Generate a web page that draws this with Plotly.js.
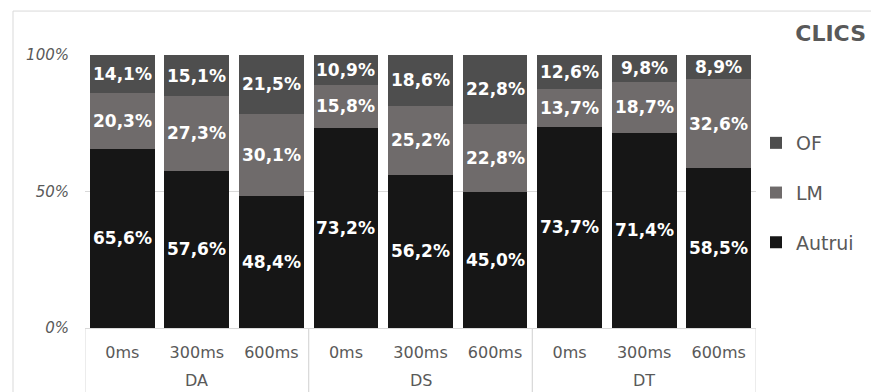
<!DOCTYPE html>
<html><head><meta charset="utf-8">
<script src="https://cdn.plot.ly/plotly-3.0.1.min.js"></script>
<style>html,body{margin:0;padding:0;background:#fff}#c{width:871px;height:392px}</style>
</head><body><div id="c"></div>
<script>
const groups = ['DA','DA','DA','DS','DS','DS','DT','DT','DT'];
const delays = ['0ms','300ms','600ms','0ms','300ms','600ms','0ms','300ms','600ms'];
const autrui = [65.6,57.6,48.4,73.2,56.2,45.0,73.7,71.4,58.5];
const lm     = [20.3,27.3,30.1,15.8,25.2,22.8,13.7,18.7,32.6];
const of     = [14.1,15.1,21.5,10.9,18.6,22.8,12.6,9.8,8.9];
const yTickVals = [0,50,100];
const yTickText = ['0%','50%','100%'];

const fmt = v => v.toFixed(1).replace('.', ',') + '%';
const font = 'DejaVu Sans, sans-serif';
const idx = delays.map((_, i) => i);
const grey = '#595959', lineC = '#d9d9d9';

function tr(name, vals, color, rank){
  return {type:'bar', name:name, x:idx, y:vals,
    marker:{color:color, line:{width:0}}, legendgroup:name, legendrank:rank, hoverinfo:'none'};
}
const data = [
  tr('Autrui', autrui, '#161616', 3),
  tr('LM', lm, '#6f6b6b', 2),
  tr('OF', of, '#4e4e4e', 1)
];

// segment labels, placed at the centre of each normalised segment
const annotations = [];
idx.forEach(i => {
  const t = autrui[i] + lm[i] + of[i];
  const segs = [[autrui[i], 0], [lm[i], autrui[i]], [of[i], autrui[i] + lm[i]]];
  segs.forEach(([v, base]) => {
    annotations.push({x:i, y:(base + v / 2) / t * 100, xref:'x', yref:'y', text:'<b>' + fmt(v) + '</b>',
      showarrow:false, font:{family:font, size:17, color:'#ffffff'}, xanchor:'center', yanchor:'middle'});
  });
});
// group labels and dividers
const shapes = [{type:'rect', xref:'paper', yref:'paper', x0:-0.1073, x1:1.6, y0:-0.6, y1:1.161,
    line:{color:lineC, width:1}, fillcolor:'rgba(0,0,0,0)', layer:'below'}];
const uniq = [...new Set(groups)];
uniq.forEach(g => {
  const members = idx.filter(i => groups[i] === g);
  const first = members[0], last = members[members.length - 1];
  annotations.push({x:(first + last) / 2, y:-0.193, xref:'x', yref:'paper', text:g, showarrow:false,
    font:{family:font, size:16, color:grey}, xanchor:'center', yanchor:'middle'});
  [first - 0.5, last + 0.5].forEach(b => shapes.push({type:'line', xref:'x', yref:'paper', x0:b, x1:b, y0:0, y1:-0.3,
    line:{color:lineC, width:1}}));
});

const layout = {
  width:871, height:392,
  margin:{l:85, r:115, t:55, b:64, autoexpand:false},
  barmode:'stack', barnorm:'percent', bargap:0.13,
  paper_bgcolor:'#fff', plot_bgcolor:'#fff',
  font:{family:font, color:grey},
  title:{text:'<b>CLICS</b>', x:866/871, xanchor:'right', xref:'container', y:1-33/392, yref:'container', yanchor:'middle',
    font:{family:font, size:22, color:grey}},
  xaxis:{type:'linear', range:[-0.5, 8.5], tickvals:idx, ticktext:delays, showgrid:false, zeroline:false,
    showline:true, linecolor:lineC, linewidth:1, ticks:'', ticklabelstandoff:10,
    tickfont:{family:font, size:16, color:grey}},
  yaxis:{range:[0,100], tickvals:yTickVals, ticktext:yTickText, showgrid:true, gridcolor:lineC,
    zeroline:false, showline:false, ticks:'', ticklabelstandoff:15,
    tickfont:{family:font, size:15, color:grey, style:'italic'}},
  legend:{xref:'container', x:756/871, xanchor:'left', yref:'container', y:1-124/392, yanchor:'top',
    traceorder:'grouped', tracegroupgap:22,
    font:{family:font, size:19, color:grey}, bgcolor:'rgba(0,0,0,0)'},
  annotations:annotations,
  shapes:shapes
};
Plotly.newPlot('c', data, layout, {displayModeBar:false, staticPlot:true});
</script></body></html>
